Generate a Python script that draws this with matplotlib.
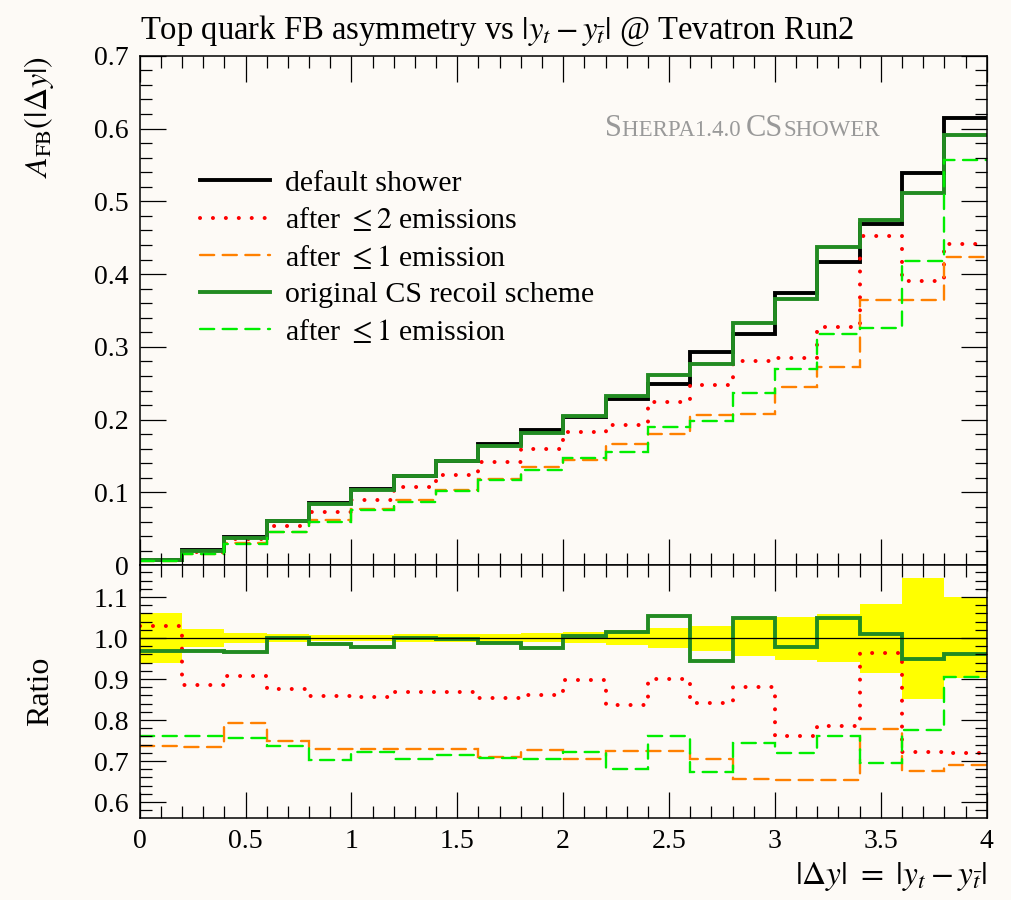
import numpy as np
import matplotlib
matplotlib.use("Agg")
import matplotlib.pyplot as plt
from matplotlib.ticker import MultipleLocator, FormatStrFormatter
from matplotlib.offsetbox import TextArea, HPacker, AnchoredOffsetbox

plt.rcParams['font.family'] = ['Liberation Serif', 'DejaVu Serif']
plt.rcParams['mathtext.fontset'] = 'stix'

# bin edges in |dy|
edges = np.linspace(0.0, 4.0, 21)

# A_FB per bin (upper panel)
default_shower = [0.007, 0.021, 0.039, 0.061, 0.085, 0.105, 0.123, 0.143, 0.166, 0.186,
                  0.204, 0.229, 0.249, 0.293, 0.318, 0.374, 0.417, 0.469, 0.539, 0.615]
after2_em = [0.0072, 0.0186, 0.0354, 0.0534, 0.073, 0.090, 0.107, 0.124, 0.142, 0.160,
             0.183, 0.192, 0.224, 0.247, 0.280, 0.285, 0.328, 0.452, 0.390, 0.442]
after1_em = [0.0052, 0.0154, 0.031, 0.046, 0.062, 0.077, 0.090, 0.104, 0.118, 0.135,
             0.144, 0.166, 0.180, 0.207, 0.208, 0.245, 0.273, 0.365, 0.365, 0.424]
orig_cs = [0.0068, 0.020, 0.037, 0.061, 0.084, 0.103, 0.123, 0.143, 0.164, 0.181,
           0.205, 0.232, 0.262, 0.277, 0.333, 0.366, 0.437, 0.474, 0.512, 0.591]
orig_after1 = [0.0053, 0.016, 0.029, 0.045, 0.060, 0.076, 0.087, 0.102, 0.117, 0.131,
               0.147, 0.156, 0.190, 0.198, 0.236, 0.269, 0.318, 0.326, 0.418, 0.557]

# ratios to default shower (lower panel)
r_after2 = [1.029, 0.885, 0.907, 0.875, 0.859, 0.857, 0.869, 0.868, 0.853, 0.860,
            0.898, 0.837, 0.899, 0.842, 0.881, 0.762, 0.786, 0.964, 0.723, 0.719]
r_after1 = [0.737, 0.735, 0.794, 0.750, 0.729, 0.730, 0.730, 0.729, 0.710, 0.728,
            0.704, 0.725, 0.724, 0.705, 0.656, 0.654, 0.654, 0.778, 0.676, 0.690]
r_orig = [0.969, 0.969, 0.965, 1.000, 0.985, 0.979, 0.999, 0.998, 0.989, 0.976,
          1.005, 1.014, 1.054, 0.945, 1.048, 0.977, 1.048, 1.011, 0.950, 0.961]
r_orig1 = [0.762, 0.760, 0.755, 0.737, 0.702, 0.721, 0.705, 0.714, 0.708, 0.706,
           0.721, 0.680, 0.762, 0.674, 0.743, 0.719, 0.762, 0.694, 0.776, 0.906]
band_lo = [0.938, 0.979, 0.987, 0.990, 0.992, 0.992, 0.991, 0.990, 0.988, 0.990,
           0.988, 0.983, 0.976, 0.969, 0.956, 0.947, 0.941, 0.915, 0.852, 0.902]
band_hi = [1.062, 1.021, 1.013, 1.010, 1.008, 1.008, 1.009, 1.010, 1.009, 1.013,
           1.014, 1.020, 1.024, 1.030, 1.052, 1.052, 1.058, 1.083, 1.147, 1.101]

bg = '#fdfaf6'
fig = plt.figure(figsize=(10.12, 9.0), dpi=100, facecolor=bg)
ax1 = fig.add_axes([0.138, 0.372, 0.837, 0.566], facecolor=bg)
ax2 = fig.add_axes([0.138, 0.0911, 0.837, 0.281], facecolor=bg, sharex=ax1)

dotted = dict(linestyle=(0, (0.01, 3.2)), lw=2.9)
dashed = dict(linestyle=(0, (6, 3.6)), lw=1.7)

# upper panel
ax1.stairs(default_shower, edges, baseline=None, color='black', lw=2.8, label='default shower')
ax1.stairs(after2_em, edges, baseline=None, color='red', label=r'after $\leq 2$ emissions', **dotted)
ax1.stairs(after1_em, edges, baseline=None, color='#ff8000', label=r'after $\leq 1$ emission', **dashed)
ax1.stairs(orig_cs, edges, baseline=None, color='#228b22', lw=2.8, label='original CS recoil scheme')
ax1.stairs(orig_after1, edges, baseline=None, color='#00ee00', label=r'after $\leq 1$ emission', **dashed)

ax1.set_xlim(0, 4)
ax1.set_ylim(0, 0.7)
ax1.set_title(r'Top quark FB asymmetry vs $|y_t - y_{\bar{t}}|$ @ Tevatron Run2', fontsize=23.5,
              pad=12, loc='left')
ax1.set_ylabel(r'$A_{\mathrm{FB}}(|\Delta y|)$', fontsize=23, loc='top')
ax1.yaxis.set_label_coords(-0.099, 1.0)
leg = ax1.legend(loc='upper left', bbox_to_anchor=(0.057, 0.8), frameon=False, fontsize=21.5,
                 handlelength=2.35, handletextpad=0.5, labelspacing=0.32, borderaxespad=0)
for h in leg.legend_handles:
    h.set_dash_capstyle('round') if hasattr(h, 'set_dash_capstyle') else h.set_capstyle('round')

parts = [('S', 22), ('HERPA1.4.0 ', 16.5), ('CS', 22), ('SHOWER', 16.5)]
boxes = [TextArea(t, textprops=dict(color='#999999', size=s)) for t, s in parts]
pack = HPacker(children=boxes, align='baseline', pad=0, sep=0)
ax1.add_artist(AnchoredOffsetbox(loc='upper right', child=pack, frameon=False, pad=0, borderpad=0,
                                 bbox_to_anchor=(0.874, 0.885), bbox_transform=ax1.transAxes))

# ratio panel
ax2.stairs(band_hi, edges, baseline=band_lo, fill=True, color='yellow', lw=0)
ax2.axhline(1.0, color='black', lw=0.9)
ax2.stairs(r_after2, edges, baseline=None, color='red', **dotted)
ax2.stairs(r_after1, edges, baseline=None, color='#ff8000', **dashed)
ax2.stairs(r_orig, edges, baseline=None, color='#228b22', lw=2.8)
ax2.stairs(r_orig1, edges, baseline=None, color='#00ee00', **dashed)
ax2.set_ylim(0.561, 1.178)
ax2.set_ylabel('Ratio', fontsize=23)
ax2.yaxis.set_label_coords(-0.1, 0.5)
ax2.set_xlabel(r'$|\Delta y|\ =\ |y_t - y_{\bar{t}}|$', fontsize=24, loc='right')
ax2.xaxis.set_label_coords(1.0, -0.165)

for ax in (ax1, ax2):
    ax.tick_params(which='both', direction='in', top=True, right=True, labelsize=20, width=0.9)
    ax.tick_params(which='major', length=19, pad=8)
    ax.tick_params(which='minor', length=8.5)
    ax.xaxis.set_major_locator(MultipleLocator(0.5))
    ax.xaxis.set_minor_locator(MultipleLocator(0.1))
    ax.yaxis.set_major_locator(MultipleLocator(0.1))
    ax.yaxis.set_minor_locator(MultipleLocator(0.02))
    for sp in ax.spines.values():
        sp.set_linewidth(1.1)

ax1.yaxis.set_major_formatter(FormatStrFormatter('%g'))
ax2.yaxis.set_major_formatter(FormatStrFormatter('%.1f'))
ax2.xaxis.set_major_formatter(FormatStrFormatter('%g'))
ax1.tick_params(labelbottom=False)

for p in ax1.patches + ax2.patches:
    p.set_capstyle('round')

fig.savefig('out.png', dpi=100, facecolor=bg)
